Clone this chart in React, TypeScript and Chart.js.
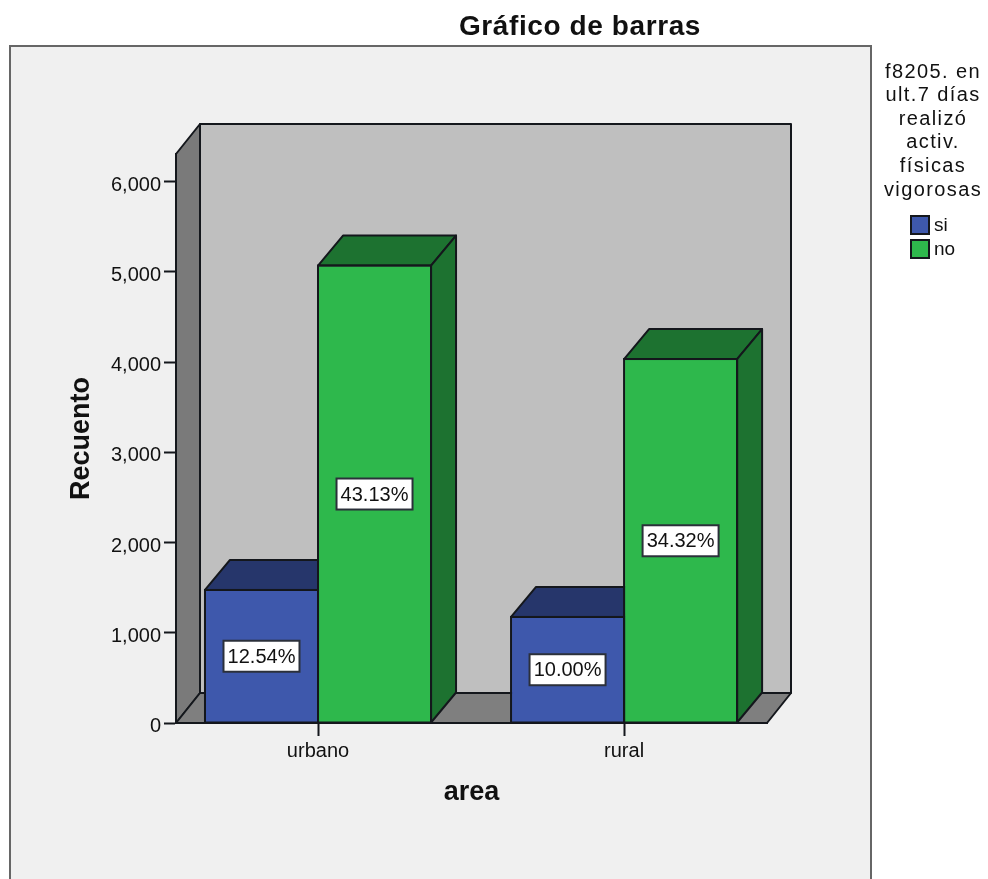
import React, { useEffect, useRef } from "react";
import { Chart, registerables } from "chart.js";

Chart.register(...registerables);

const categories = ["urbano", "rural"];
const seriesNames = ["si", "no"];
const siCounts = [1474, 1175];
const noCounts = [5069, 4033];
const siPercents = ["12.54%", "10.00%"];
const noPercents = ["43.13%", "34.32%"];
const countTicks = [0, 1000, 2000, 3000, 4000, 5000, 6000];
const legendTitle = ["f8205. en", "ult.7 días", "realizó", "activ.", "físicas", "vigorosas"];
const chartTitle = "Gráfico de barras";

const FONT = '"Liberation Sans", Arial, sans-serif';
const INK = "#14171c";
const TAG_EDGE = "#2b303a";
const DEPTH_X = 24;
const BAR_DEPTH_X = 25;
const DEPTH_Y = -30;
const faceColors = ["#3e58ac", "#2eb84c"];
const topColors = ["#26366b", "#1d7230"];

function face(ctx: CanvasRenderingContext2D, pts: number[][], fill: string) {
  ctx.beginPath();
  pts.forEach(([x, y], i) => (i ? ctx.lineTo(x, y) : ctx.moveTo(x, y)));
  ctx.closePath();
  ctx.fillStyle = fill;
  ctx.fill();
  ctx.lineWidth = 2;
  ctx.lineJoin = "round";
  ctx.strokeStyle = INK;
  ctx.stroke();
}

const box3d = {
  id: "box3d",
  // Panel background, then the walls and floor of the plot box.
  beforeDraw(chart: any) {
    const { ctx, chartArea: a } = chart;
    ctx.save();
    ctx.fillStyle = "#f0f0f0";
    ctx.fillRect(10, 46, 861, 840);
    ctx.strokeStyle = "#666666";
    ctx.lineWidth = 2;
    ctx.beginPath();
    ctx.moveTo(10, 890);
    ctx.lineTo(10, 46);
    ctx.lineTo(871, 46);
    ctx.lineTo(871, 890);
    ctx.stroke();

    const bx = a.left + DEPTH_X;
    const ty = a.top + DEPTH_Y;
    const by = a.bottom + DEPTH_Y;
    face(ctx, [[bx, ty], [a.right + DEPTH_X, ty], [a.right + DEPTH_X, by], [bx, by]], "#bfbfbf");
    face(ctx, [[a.left, a.top], [bx, ty], [bx, by], [a.left, a.bottom]], "#7a7a7a");
    face(ctx, [[a.left, a.bottom], [a.right, a.bottom], [a.right + DEPTH_X, by], [bx, by]], "#7f7f7f");
    ctx.restore();
  },
  // Top and side faces sit behind the front faces of every bar.
  beforeDatasetsDraw(chart: any) {
    const { ctx } = chart;
    ctx.save();
    chart.data.datasets.forEach((_: any, d: number) => {
      chart.getDatasetMeta(d).data.forEach((bar: any) => {
        const l = bar.x - bar.width / 2;
        const r = bar.x + bar.width / 2;
        face(ctx, [[l, bar.y], [l + BAR_DEPTH_X, bar.y + DEPTH_Y], [r + BAR_DEPTH_X, bar.y + DEPTH_Y], [r, bar.y]], topColors[d]);
        face(ctx, [[r, bar.y], [r + BAR_DEPTH_X, bar.y + DEPTH_Y], [r + BAR_DEPTH_X, bar.base + DEPTH_Y], [r, bar.base]], topColors[d]);
      });
    });
    ctx.restore();
  },
  // Outlines, percentage tags, heading and legend.
  afterDatasetsDraw(chart: any) {
    const { ctx } = chart;
    const percents = [siPercents, noPercents];
    ctx.save();
    chart.data.datasets.forEach((_: any, d: number) => {
      chart.getDatasetMeta(d).data.forEach((bar: any) => {
        ctx.strokeStyle = INK;
        ctx.lineWidth = 2;
        ctx.strokeRect(bar.x - bar.width / 2, bar.y, bar.width, bar.base - bar.y);
      });
    });
    chart.data.datasets.forEach((_: any, d: number) => {
      chart.getDatasetMeta(d).data.forEach((bar: any, i: number) => {
        const cx = bar.x;
        const cy = (bar.y + bar.base) / 2;
        ctx.fillStyle = "#ffffff";
        ctx.fillRect(cx - 38, cy - 15.5, 76, 31);
        ctx.strokeStyle = TAG_EDGE;
        ctx.lineWidth = 2;
        ctx.strokeRect(cx - 38, cy - 15.5, 76, 31);
        ctx.fillStyle = "#111111";
        ctx.font = `20px ${FONT}`;
        ctx.textAlign = "center";
        ctx.textBaseline = "middle";
        ctx.fillText(percents[d][i], cx, cy + 1);
      });
    });

    ctx.fillStyle = "#111111";
    ctx.font = `bold 28px ${FONT}`;
    ctx.textAlign = "center";
    ctx.textBaseline = "middle";
    (ctx as any).letterSpacing = "0.6px";
    ctx.fillText(chartTitle, 580, 27);

    ctx.font = `20px ${FONT}`;
    (ctx as any).letterSpacing = "1.4px";
    legendTitle.forEach((line, i) => ctx.fillText(line, 933, 72 + i * 23.6));
    (ctx as any).letterSpacing = "0px";

    ctx.textAlign = "left";
    seriesNames.forEach((name, i) => {
      const y = 216 + i * 24;
      ctx.fillStyle = faceColors[i];
      ctx.fillRect(911, y, 18, 18);
      ctx.strokeStyle = INK;
      ctx.lineWidth = 2;
      ctx.strokeRect(911, y, 18, 18);
      ctx.fillStyle = "#111111";
      ctx.font = `19px ${FONT}`;
      ctx.fillText(name, 934, y + 10);
    });
    ctx.restore();
  },
};

export default function App() {
  const ref = useRef<HTMLCanvasElement | null>(null);

  useEffect(() => {
    document.body.style.margin = "0";
    const toPoints = (vals: number[]) => vals.map((y, x) => ({ x, y }));
    const chart = new Chart(ref.current as HTMLCanvasElement, {
      type: "bar",
      data: {
        datasets: [
          { label: seriesNames[0], data: toPoints(siCounts), backgroundColor: faceColors[0], borderColor: INK, borderWidth: 1 },
          { label: seriesNames[1], data: toPoints(noCounts), backgroundColor: faceColors[1], borderColor: INK, borderWidth: 1 },
        ],
      } as any,
      plugins: [box3d],
      options: {
        animation: false,
        responsive: false,
        layout: { padding: { left: 0, right: 221, top: 154, bottom: 0 } },
        plugins: { legend: { display: false }, title: { display: false }, tooltip: { enabled: false } },
        datasets: { bar: { barPercentage: 1, categoryPercentage: 0.7386 } },
        scales: {
          x: {
            type: "linear",
            offset: false,
            min: -0.464,
            max: 1.467,
            afterBuildTicks: (s: any) => {
              s.ticks = categories.map((_, value) => ({ value }));
            },
            afterFit: (s: any) => {
              s.height = 156;
            },
            grid: { offset: false, drawOnChartArea: false, drawTicks: true, tickLength: 13, tickWidth: 2, tickColor: INK },
            border: { display: true, color: INK, width: 2 },
            ticks: {
              autoSkip: false,
              maxRotation: 0,
              padding: 3,
              color: "#111111",
              font: { family: FONT, size: 20 },
              callback: (v: any) => categories[v as number],
            },
            title: {
              display: true,
              text: "area",
              color: "#111111",
              font: { family: FONT, size: 27, weight: "bold" },
              padding: { top: 0, bottom: 70 },
            },
          },
          y: {
            min: 0,
            max: 6305,
            afterBuildTicks: (s: any) => {
              s.ticks = countTicks.map((value) => ({ value }));
            },
            afterFit: (s: any) => {
              s.width = 176;
            },
            grid: { drawOnChartArea: false, drawTicks: true, tickLength: 12, tickWidth: 2, tickColor: INK },
            border: { display: true, color: INK, width: 2 },
            ticks: {
              padding: 3,
              color: "#111111",
              // An empty first line with a tight line height sets the numbers just below their ticks.
              font: { family: FONT, size: 20, lineHeight: 0.35 },
              callback: (v: any) => ["", Number(v).toLocaleString("en-US")],
            },
            title: {
              display: true,
              text: "Recuento",
              color: "#111111",
              font: { family: FONT, size: 27, weight: "bold" },
              padding: { top: 65, bottom: 0 },
            },
          },
        },
      } as any,
    });
    return () => chart.destroy();
  }, []);

  return <canvas ref={ref} width={988} height={879} style={{ display: "block" }} />;
}
